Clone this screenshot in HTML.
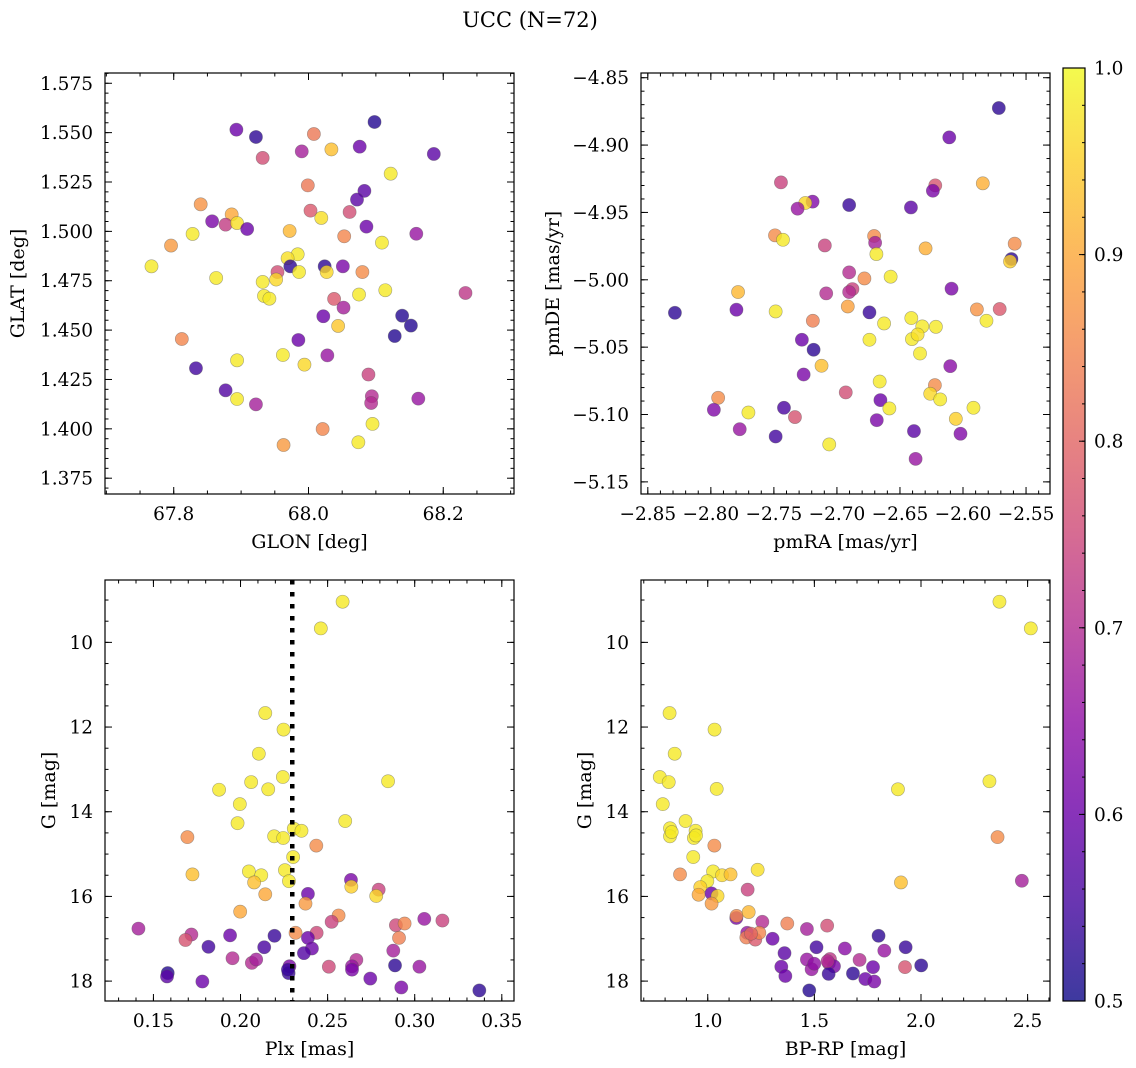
<!DOCTYPE html>
<html><head><meta charset="utf-8">
<style>
html,body{margin:0;padding:0;background:#fff;}
svg{display:block;font-family:"DejaVu Serif","Liberation Serif",serif;}
</style></head>
<body>
<svg id="fig" width="1136" height="1068" viewBox="0 0 1136 1068" xmlns="http://www.w3.org/2000/svg">
<defs>
<linearGradient id="plasma" x1="0" y1="1" x2="0" y2="0">
<stop offset="0" stop-color="#0d0887"/><stop offset="0.1" stop-color="#41049d"/><stop offset="0.2" stop-color="#6a00a8"/><stop offset="0.3" stop-color="#8f0da4"/><stop offset="0.4" stop-color="#b12a90"/><stop offset="0.5" stop-color="#cc4778"/><stop offset="0.6" stop-color="#e16462"/><stop offset="0.7" stop-color="#f2844b"/><stop offset="0.8" stop-color="#fca636"/><stop offset="0.9" stop-color="#fcce25"/><stop offset="1" stop-color="#f0f921"/>
</linearGradient>
</defs>
<text x="530" y="27" font-size="21" text-anchor="middle">UCC (N=72)</text>
</svg>
<script>
// ---- Panel 1: GLON / GLAT ----
const glon = [67.893,67.922,68.098,68.008,67.932,67.990,68.034,68.076,68.186,68.122,67.999,68.083,68.072,67.840,67.886,68.003,68.061,68.019,67.857,67.877,67.894,67.909,68.086,68.160,67.828,67.972,68.053,67.796,68.109,67.767,67.984,67.969,67.973,68.024,68.051,67.863,67.954,67.986,68.027,68.080,67.932,67.952,68.233,67.934,67.942,68.075,68.114,68.038,68.052,68.022,68.139,68.152,68.044,68.128,67.812,67.985,67.962,68.028,67.894,67.994,67.833,68.089,67.877,67.894,67.922,68.094,68.093,68.163,68.095,68.021,68.074,67.963];
const glat = [1.5515,1.5478,1.5554,1.5493,1.5372,1.5405,1.5415,1.5429,1.5392,1.5292,1.5233,1.5205,1.5161,1.5137,1.5086,1.5105,1.5098,1.5068,1.5051,1.5034,1.5042,1.5012,1.5024,1.4988,1.4987,1.5002,1.4975,1.4928,1.4943,1.4823,1.4884,1.4864,1.4823,1.4823,1.4823,1.4764,1.4794,1.4794,1.4794,1.4794,1.4744,1.4756,1.4688,1.4673,1.4659,1.4680,1.4702,1.4658,1.4614,1.4570,1.4573,1.4523,1.4521,1.4470,1.4455,1.4450,1.4374,1.4372,1.4347,1.4325,1.4307,1.4275,1.4195,1.4151,1.4124,1.4165,1.4131,1.4153,1.4025,1.3999,1.3932,1.3918];
const prob1 = [0.60,0.53,0.52,0.83,0.76,0.68,0.93,0.60,0.58,0.98,0.83,0.58,0.58,0.87,0.90,0.78,0.76,0.97,0.62,0.73,0.97,0.60,0.60,0.66,0.98,0.92,0.85,0.88,0.98,0.98,0.98,0.97,0.53,0.53,0.62,0.98,0.76,0.98,0.96,0.86,0.98,0.96,0.72,0.98,0.98,0.98,0.98,0.78,0.68,0.60,0.52,0.52,0.94,0.52,0.85,0.60,0.98,0.66,0.98,0.96,0.55,0.74,0.57,0.98,0.68,0.70,0.70,0.66,0.98,0.85,0.98,0.88];
// ---- Panel 2: pmRA / pmDE ----
const pmra = [-2.5716,-2.6109,-2.7444,-2.5843,-2.6220,-2.6239,-2.7193,-2.7251,-2.7312,-2.6903,-2.6413,-2.7491,-2.7428,-2.6705,-2.6697,-2.7096,-2.6297,-2.5590,-2.6687,-2.5616,-2.5627,-2.6903,-2.6782,-2.6574,-2.6877,-2.6903,-2.7085,-2.7784,-2.6091,-2.8285,-2.7797,-2.7486,-2.6914,-2.6742,-2.7191,-2.6626,-2.6410,-2.6323,-2.6215,-2.5890,-2.5709,-2.5814,-2.6742,-2.6405,-2.6360,-2.6341,-2.7278,-2.7185,-2.7122,-2.7264,-2.6101,-2.6661,-2.6223,-2.6260,-2.6181,-2.6930,-2.7942,-2.7976,-2.7702,-2.7420,-2.7333,-2.6655,-2.6584,-2.6684,-2.5917,-2.6057,-2.7771,-2.7486,-2.6389,-2.6020,-2.7061,-2.6376];
const pmde = [-4.8725,-4.8943,-4.9277,-4.9284,-4.9299,-4.9339,-4.9420,-4.9430,-4.9472,-4.9445,-4.9463,-4.9670,-4.9703,-4.9675,-4.9725,-4.9745,-4.9767,-4.9732,-4.9809,-4.9846,-4.9864,-4.9945,-4.9990,-4.9977,-5.0069,-5.0091,-5.0101,-5.0091,-5.0066,-5.0245,-5.0222,-5.0235,-5.0198,-5.0242,-5.0304,-5.0324,-5.0284,-5.0346,-5.0349,-5.0220,-5.0217,-5.0304,-5.0445,-5.0440,-5.0406,-5.0547,-5.0445,-5.0519,-5.0638,-5.0703,-5.0641,-5.0755,-5.0782,-5.0846,-5.0888,-5.0836,-5.0876,-5.0965,-5.0985,-5.0950,-5.1019,-5.0893,-5.0955,-5.1042,-5.0950,-5.1032,-5.1109,-5.1163,-5.1123,-5.1143,-5.1222,-5.1329];
const prob2 = [0.53,0.60,0.74,0.91,0.77,0.62,0.63,0.96,0.66,0.54,0.58,0.86,0.98,0.86,0.68,0.74,0.91,0.86,0.98,0.53,0.95,0.70,0.86,0.98,0.74,0.70,0.70,0.92,0.62,0.53,0.60,0.98,0.89,0.54,0.84,0.98,0.98,0.98,0.98,0.87,0.78,0.98,0.98,0.98,0.97,0.98,0.60,0.53,0.93,0.62,0.64,0.98,0.86,0.96,0.98,0.76,0.86,0.63,0.98,0.56,0.77,0.60,0.98,0.62,0.98,0.95,0.66,0.55,0.58,0.63,0.98,0.66];
// ---- Panel 3: Plx / G ----
const plx = [0.2586,0.2461,0.2142,0.2247,0.2105,0.2243,0.2847,0.2061,0.1877,0.2159,0.1996,0.1983,0.2601,0.2306,0.2350,0.2193,0.2245,0.1695,0.2435,0.2302,0.1724,0.2048,0.2119,0.2078,0.2255,0.2278,0.2634,0.2636,0.2793,0.2779,0.2142,0.2387,0.2373,0.1998,0.2563,0.2523,0.3055,0.3159,0.2892,0.2942,0.2910,0.1414,0.1718,0.1684,0.1940,0.2195,0.2316,0.2437,0.1816,0.2136,0.2387,0.2410,0.2364,0.1954,0.2065,0.2090,0.2877,0.2665,0.2640,0.2640,0.2507,0.2281,0.2276,0.2887,0.3027,0.1582,0.1578,0.1781,0.2745,0.2923,0.3371,0.2272];
const gmag3 = [9.04,9.67,11.67,12.06,12.63,13.18,13.28,13.30,13.48,13.47,13.82,14.27,14.22,14.40,14.45,14.58,14.62,14.60,14.80,15.07,15.48,15.41,15.50,15.67,15.38,15.64,15.61,15.77,15.84,15.99,15.95,15.94,16.17,16.36,16.45,16.60,16.53,16.57,16.68,16.64,16.98,16.76,16.90,17.03,16.92,16.93,16.86,16.86,17.19,17.20,16.98,17.23,17.34,17.46,17.57,17.49,17.28,17.50,17.65,17.73,17.66,17.65,17.81,17.63,17.66,17.81,17.89,18.01,17.94,18.15,18.22,17.73];
const prob3 = [0.98,0.98,0.98,0.98,0.98,0.98,0.98,0.98,0.98,0.98,0.98,0.98,0.98,0.98,0.98,0.98,0.98,0.86,0.86,0.98,0.93,0.98,0.98,0.93,0.98,0.98,0.62,0.95,0.74,0.96,0.90,0.60,0.88,0.90,0.86,0.74,0.66,0.74,0.75,0.85,0.84,0.68,0.70,0.77,0.60,0.54,0.86,0.75,0.55,0.56,0.60,0.60,0.57,0.70,0.70,0.68,0.68,0.70,0.66,0.62,0.75,0.62,0.54,0.53,0.66,0.52,0.58,0.60,0.60,0.62,0.53,0.54];
// ---- Panel 4: BP-RP / G ----
const bprp = [2.368,2.515,0.821,1.032,0.845,0.775,0.817,1.042,1.892,2.321,0.789,0.896,0.823,0.823,0.943,0.935,1.031,2.359,0.932,1.234,0.870,1.025,1.067,1.107,0.998,0.965,1.906,2.473,0.957,1.018,1.046,1.018,1.187,1.134,1.135,1.192,1.256,1.373,1.465,1.560,1.185,1.181,1.223,1.242,1.304,1.360,1.510,1.643,1.801,1.928,1.828,1.465,1.573,1.568,1.592,1.712,1.345,1.487,1.567,1.681,1.775,1.925,2.001,1.364,1.739,1.781,1.476,1.562,0.831,0.945,1.203,1.4995];
const gmag4 = [9.04,9.67,11.67,12.06,12.63,13.18,13.30,13.46,13.47,13.28,13.82,14.22,14.39,14.58,14.45,14.62,14.80,14.60,15.07,15.37,15.48,15.41,15.50,15.48,15.64,15.78,15.67,15.63,15.96,15.93,15.99,16.17,15.84,16.51,16.46,16.37,16.60,16.64,16.77,16.69,16.86,16.97,17.02,16.86,17.00,17.34,17.20,17.23,16.93,17.20,17.28,17.49,17.48,17.58,17.65,17.50,17.66,17.72,17.83,17.82,17.67,17.67,17.63,17.88,17.95,18.01,18.22,17.53,14.48,14.56,16.88,17.59];
const prob4 = [0.98,0.98,0.98,0.98,0.98,0.98,0.98,0.98,0.98,0.98,0.98,0.98,0.98,0.98,0.98,0.98,0.86,0.86,0.98,0.97,0.86,0.98,0.96,0.93,0.98,0.95,0.93,0.68,0.90,0.60,0.96,0.88,0.74,0.62,0.86,0.92,0.70,0.84,0.68,0.76,0.66,0.84,0.78,0.85,0.60,0.58,0.55,0.64,0.53,0.54,0.66,0.66,0.72,0.68,0.62,0.70,0.60,0.66,0.54,0.53,0.60,0.77,0.53,0.60,0.60,0.62,0.52,0.70,0.98,0.98,0.80,0.65];
const plxLine = [0.2297];
const cbTicks = [0.5,0.6,0.7,0.8,0.9,1.0];

const NS = 'http://www.w3.org/2000/svg';
const svg = document.getElementById('fig');
function mk(tag, attrs, parent){ const e=document.createElementNS(NS,tag); for(const k in attrs) e.setAttribute(k,attrs[k]); (parent||svg).appendChild(e); return e; }
const stops=[[13,8,135],[65,4,157],[106,0,168],[143,13,164],[177,42,144],[204,71,120],[225,100,98],[242,132,75],[252,166,54],[252,206,37],[240,249,33]];
function cmap(p){ let t=Math.max(0,Math.min(1,(p-0.5)/0.5))*10; let i=Math.min(9,Math.floor(t)); let f=t-i; const a=stops[i],b=stops[i+1]; return 'rgb('+a.map((v,k)=>Math.round(v+(b[k]-v)*f)).join(',')+')'; }
function fmt(v,d){ return (v<0?'\u2212':'')+Math.abs(v).toFixed(d); }
const TFS=18.5, LFS=19;

function panel(o){
  const g=mk('g',{});  
  const X=v=>o.L+(v-o.x0)/(o.x1-o.x0)*(o.R-o.L);
  const Y=v=>o.T+(v-o.y0)/(o.y1-o.y0)*(o.B-o.T);
  const mg=mk('g',{},g);  
  for(let i=0;i<o.xs.length;i++){
    const c=mk('circle',{cx:X(o.xs[i]),cy:Y(o.ys[i]),r:6.6,fill:cmap(o.ps[i]),'fill-opacity':0.8,stroke:'#555','stroke-opacity':0.5,'stroke-width':0.6},mg);
    
    
  }
  if(o.vline){ for(const v of o.vline){ const l=mk('line',{x1:X(v),x2:X(v),y1:o.T,y2:o.B,stroke:'#000','stroke-width':4.5,'stroke-dasharray':'4.5 7.5'},g);
    
     } }
  const tg=mk('g',{stroke:'#000','stroke-width':1},g);
  const eps=1e-9;
  const mi=(a,b,s,cb)=>{ const st=Math.ceil((a-eps)/s); for(let k=st;k*s<=b+eps;k++) cb(+(k*s).toFixed(6)); };
  const xlo=Math.min(o.x0,o.x1),xhi=Math.max(o.x0,o.x1),ylo=Math.min(o.y0,o.y1),yhi=Math.max(o.y0,o.y1);
  mi(xlo,xhi,o.xminor,v=>{const x=X(v); mk('line',{x1:x,x2:x,y1:o.B,y2:o.B-3.5},tg); mk('line',{x1:x,x2:x,y1:o.T,y2:o.T+3.5},tg);});
  mi(ylo,yhi,o.yminor,v=>{const y=Y(v); mk('line',{x1:o.L,x2:o.L+3.5,y1:y,y2:y},tg); mk('line',{x1:o.R,x2:o.R-3.5,y1:y,y2:y},tg);});
  mi(xlo,xhi,o.xmajor,v=>{const x=X(v); mk('line',{x1:x,x2:x,y1:o.B,y2:o.B-7},tg); mk('line',{x1:x,x2:x,y1:o.T,y2:o.T+7},tg);
    const t=mk('text',{x:x,y:o.B+26,'font-size':TFS,'text-anchor':'middle'},g); t.textContent=fmt(v,o.xd);
     });
  mi(ylo,yhi,o.ymajor,v=>{const y=Y(v); mk('line',{x1:o.L,x2:o.L+7,y1:y,y2:y},tg); mk('line',{x1:o.R,x2:o.R-7,y1:y,y2:y},tg);
    const t=mk('text',{x:o.L-12,y:y+6.5,'font-size':TFS,'text-anchor':'end'},g); t.textContent=fmt(v,o.yd);
     });
  const fr=mk('rect',{x:o.L,y:o.T,width:o.R-o.L,height:o.B-o.T,fill:'none',stroke:'#000','stroke-width':1.2},g);
   
  const xl=mk('text',{x:(o.L+o.R)/2,y:o.B+54,'font-size':LFS,'text-anchor':'middle'},g); xl.textContent=o.xlab;
   
  const yl=mk('text',{x:0,y:0,'font-size':LFS,'text-anchor':'middle',transform:'translate('+o.ylx+','+((o.T+o.B)/2)+') rotate(-90)'},g); yl.textContent=o.ylab;
   
}

panel({name:'glon-glat-panel',L:105,R:514,T:73,B:494,x0:67.698,x1:68.305,y0:1.5802,y1:1.367,xs:glon,ys:glat,ps:prob1,xmajor:0.2,xminor:0.05,ymajor:0.025,yminor:0.005,xd:1,yd:3,xlab:'GLON [deg]',ylab:'GLAT [deg]',ylx:24});
panel({name:'pm-panel',L:641,R:1050,T:73,B:494,x0:-2.8554,x1:-2.531,y0:-4.8465,y1:-5.159,xs:pmra,ys:pmde,ps:prob2,xmajor:0.05,xminor:0.01,ymajor:0.05,yminor:0.01,xd:2,yd:2,xlab:'pmRA [mas/yr]',ylab:'pmDE [mas/yr]',ylx:559});
panel({name:'plx-g-panel',L:105,R:514,T:580,B:1001,x0:0.1222,x1:0.357,y0:8.527,y1:18.47,xs:plx,ys:gmag3,ps:prob3,xmajor:0.05,xminor:0.01,ymajor:2,yminor:0.5,xd:2,yd:0,xlab:'Plx [mas]',ylab:'G [mag]',ylx:55,vline:plxLine});
panel({name:'cmd-panel',L:641,R:1050,T:580,B:1001,x0:0.687,x1:2.605,y0:8.527,y1:18.47,xs:bprp,ys:gmag4,ps:prob4,xmajor:0.5,xminor:0.1,ymajor:2,yminor:0.5,xd:1,yd:0,xlab:'BP-RP [mag]',ylab:'G [mag]',ylx:591});

(function(){
  const L=1063,R=1085,T=68,B=1001;
  const g=mk('g',{});  
  mk('rect',{x:L,y:T,width:R-L,height:B-T,fill:'url(#plasma)','fill-opacity':0.8},g);
  const Y=v=>B-(v-0.5)/0.5*(B-T);
  for(let k=25;k<=50;k++){ const v=k*0.02; const y=Y(v); mk('line',{x1:R,x2:R-3,y1:y,y2:y,stroke:'#000'},g); }
  for(const v of cbTicks){ const y=Y(v); mk('line',{x1:R,x2:R-6,y1:y,y2:y,stroke:'#000'},g);
    const t=mk('text',{x:R+9,y:y+6.5,'font-size':TFS},g); t.textContent=v.toFixed(1);
      }
  mk('rect',{x:L,y:T,width:R-L,height:B-T,fill:'none',stroke:'#000','stroke-width':1.2},g);
})();
</script>
</body></html>
